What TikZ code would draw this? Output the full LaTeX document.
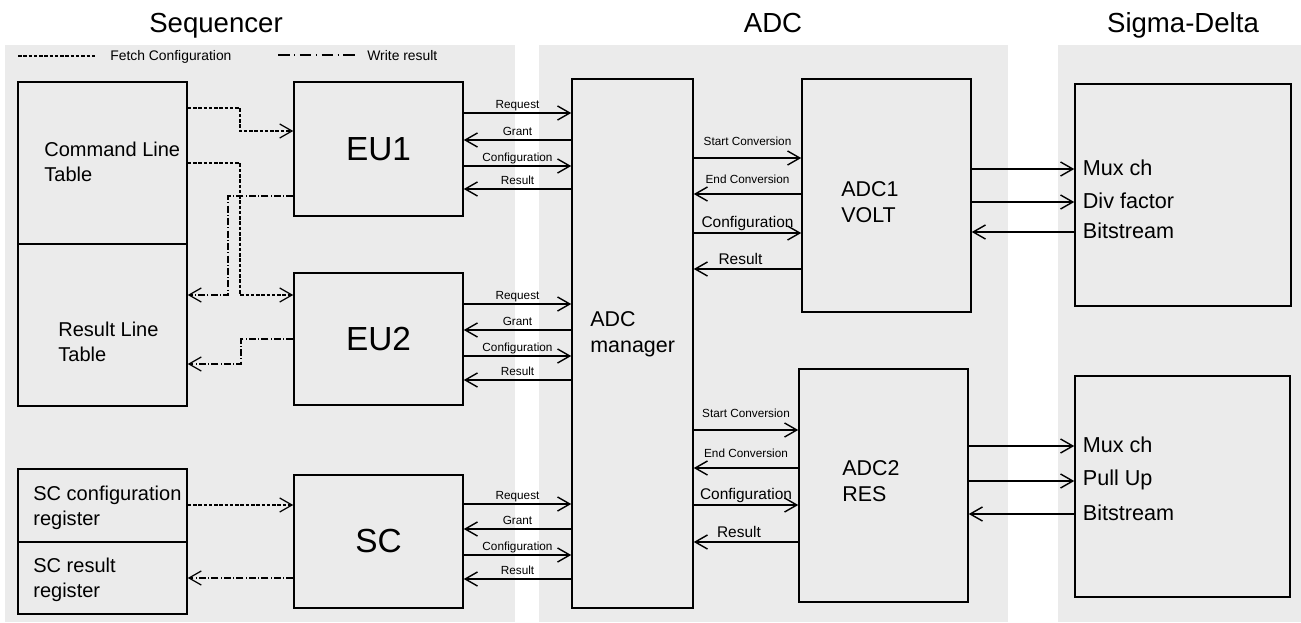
\documentclass[tikz,border=0pt]{standalone}
\usepackage{fontspec}
\setmainfont{Liberation Sans}
\usetikzlibrary{arrows.meta}
\definecolor{panelgray}{HTML}{EBEBEB}

\tikzset{
  >={Straight Barb[length=7pt,width=8pt]},
  blk/.style={draw, line width=0.9pt, inner sep=0pt},
  flow/.style={line width=0.8pt},
  fetch/.style={line width=0.7pt, dash pattern=on 2pt off 1pt},
  wres/.style={line width=0.7pt, dash pattern=on 4pt off 1.3pt on 0.5pt off 1.3pt},
  ttl/.style={anchor=base, font=\fontsize{15.7}{18}\selectfont},
  boxtxt/.style={anchor=west, inner sep=0pt, align=left, font=\fontsize{11.4}{14.2}\selectfont},
  adctxt/.style={anchor=west, inner sep=0pt, align=left, font=\fontsize{12.2}{14.7}\selectfont},
  eutxt/.style={font=\fontsize{19}{22}\selectfont},
  sml/.style={anchor=base, inner sep=0pt, font=\fontsize{6.7}{8}\selectfont},
  midlbl/.style={anchor=base, inner sep=0pt, font=\fontsize{8.8}{10}\selectfont},
  leg/.style={anchor=west, inner sep=0pt, font=\fontsize{7.9}{9}\selectfont},
  sdl/.style={anchor=west, inner sep=0pt, xshift=4.5pt, yshift=0.5pt, font=\fontsize{12.3}{14}\selectfont},
}

\begin{document}
\begin{tikzpicture}[x=0.02cm, y=-0.02cm]
    \useasboundingbox (0,0) rectangle (1301,622);

    % Panels
    \fill[panelgray] (5,45) rectangle (515,622);
    \fill[panelgray] (539,45) rectangle (1008,622);
    \fill[panelgray] (1058,45) rectangle (1301,622);

    \node[ttl] (seqT) at (216,32) {Sequencer};
    \node[ttl] (adcT) at (773,32) {ADC};
    \node[ttl] (sdT) at (1183,32) {Sigma-Delta};

    % Legend
    \draw[fetch] (18,56) -- (97,56);
    \node[leg] (fetchL) at (110,57) {Fetch Configuration};
    \draw[wres, dash pattern=on 6.6pt off 2.6pt on 0.6pt off 2.6pt] (278,55) -- (357,55);
    \node[leg] (wresL) at (367,56) {Write result};

    % Sequencer blocks
    \node[blk, minimum width=3.38cm, minimum height=3.24cm] (clt) at (102.5,163) {};
    \node[blk, minimum width=3.38cm, minimum height=3.24cm] (rlt) at (102.5,325) {};
    \node[blk, minimum width=3.38cm, minimum height=1.46cm] (scc) at (102.5,505.5) {};
    \node[blk, minimum width=3.38cm, minimum height=1.44cm] (scr) at (102.5,578) {};
    \node[boxtxt] (cltT) at (44,162) {Command Line\\Table};
    \node[boxtxt] (rltT) at (58,342) {Result Line\\Table};
    \node[boxtxt] (sccT) at (33,508) {SC configuration\\register};
    \node[boxtxt] (scrT) at (33,580) {SC result\\register};

    \node[blk, eutxt, minimum width=3.38cm, minimum height=2.68cm] (eu1) at (378.5,149) {EU1};
    \node[blk, eutxt, minimum width=3.38cm, minimum height=2.64cm] (eu2) at (378.5,339) {EU2};
    \node[blk, eutxt, minimum width=3.38cm, minimum height=2.66cm] (sc) at (378.5,541.5) {SC};

    % ADC blocks
    \node[blk, minimum width=2.42cm, minimum height=10.58cm] (mgr) at (632.5,343.5) {};
    \node[blk, minimum width=3.38cm, minimum height=4.66cm] (adc1) at (886.5,195.5) {};
    \node[blk, minimum width=3.38cm, minimum height=4.66cm] (adc2) at (883.5,485.5) {};
    \node[adctxt] (mgrT) at (590,334) {ADC\\manager};
    \node[adctxt] (adc1T) at (841,202) {ADC1\\VOLT};
    \node[adctxt] (adc2T) at (842,481) {ADC2\\RES};

    % Sigma-Delta blocks
    \node[blk, minimum width=4.32cm, minimum height=4.44cm] (sd1) at (1183,195) {};
    \node[blk, minimum width=4.30cm, minimum height=4.42cm] (sd2) at (1182.5,486.5) {};

    % Fetch configuration / write result
    \draw[fetch, ->] (clt.east |- 0,108) -| (240,131) -- (eu1.west |- 0,131);
    \draw[fetch, ->] (clt.east |- 0,163) -| (240,295) -- (eu2.west |- 0,295);
    \draw[wres, ->] (eu1.west |- 0,196) -| (228,295) -- (rlt.east |- 0,295);
    \draw[wres, ->] (eu2.west |- 0,339) -| (241,364) -- (rlt.east |- 0,364);
    \draw[fetch, ->] (scc.east |- 0,505) -- (sc.west |- 0,505);
    \draw[wres, ->] (sc.west |- 0,578) -- (scr.east |- 0,578);

    % Units <-> manager
    \foreach \u/\a/\b/\c/\d in {eu1/113/140/166/189, eu2/304/330/356/380, sc/504/529/555/579} {
        \draw[flow, ->] (\u.east |- 0,\a) -- node[sml, yshift=2.3pt] {Request} (mgr.west |- 0,\a);
        \draw[flow, <-] (\u.east |- 0,\b) -- node[sml, yshift=2.3pt] {Grant} (mgr.west |- 0,\b);
        \draw[flow, ->] (\u.east |- 0,\c) -- node[sml, yshift=2.3pt] {Configuration} (mgr.west |- 0,\c);
        \draw[flow, <-] (\u.east |- 0,\d) -- node[sml, yshift=2.3pt] {Result} (mgr.west |- 0,\d);
    }

    % Manager <-> converters
    \foreach \u/\a/\b/\c/\d in {adc1/158/194/233/269, adc2/430/468/505/542} {
        \draw[flow, ->] (mgr.east |- 0,\a) -- node[sml, yshift=7.3pt] {Start Conversion} (\u.west |- 0,\a);
        \draw[flow, <-] (mgr.east |- 0,\b) -- node[sml, yshift=6pt] {End Conversion} (\u.west |- 0,\b);
        \draw[flow, ->] (mgr.east |- 0,\c) -- node[midlbl, yshift=3.2pt] {Configuration} (\u.west |- 0,\c);
        \draw[flow, <-] (mgr.east |- 0,\d) -- node[midlbl, yshift=2.5pt, xshift=-4pt] {Result} (\u.west |- 0,\d);
    }

    % Converters <-> sigma-delta
    \foreach \u/\s/\a/\b/\c/\t in {adc1/sd1/169/202/232/Div factor, adc2/sd2/446/481/514/Pull Up} {
        \draw[flow, ->] (\u.east |- 0,\a) -- (\s.west |- 0,\a) node[sdl] {Mux ch};
        \draw[flow, ->] (\u.east |- 0,\b) -- (\s.west |- 0,\b) node[sdl] {\t};
        \draw[flow, <-] (\u.east |- 0,\c) -- (\s.west |- 0,\c) node[sdl] {Bitstream};
    }
\end{tikzpicture}
\end{document}
